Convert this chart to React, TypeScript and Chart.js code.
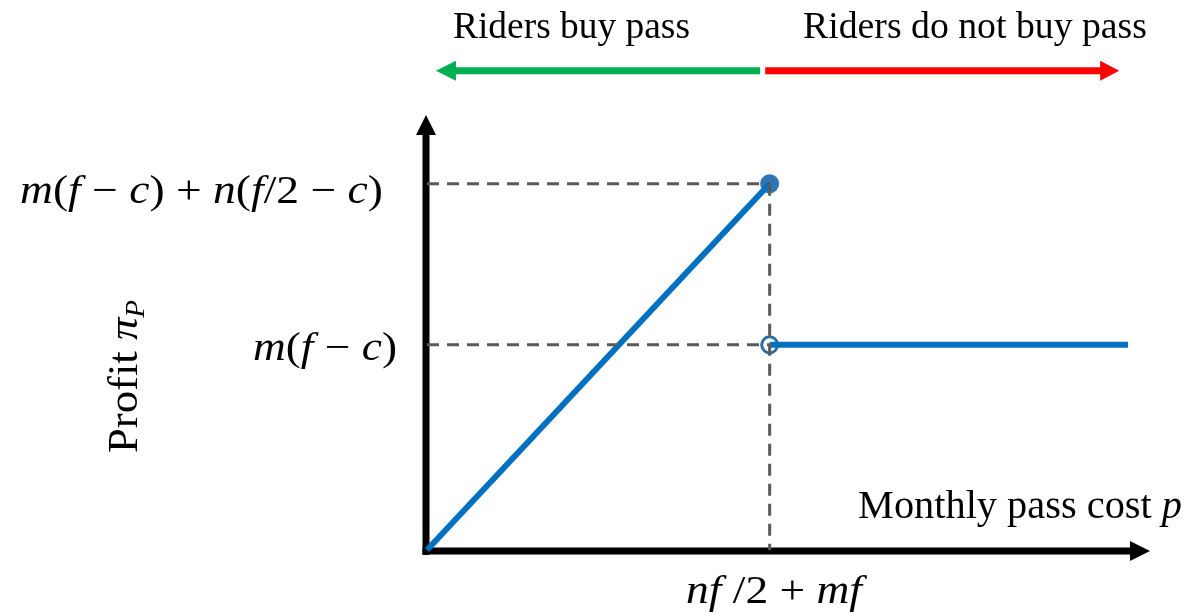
import React, { useEffect, useRef } from "react";
import { Chart, registerables } from "chart.js";

Chart.register(...registerables);

// Schematic values (axis units: break price = 1, peak profit = 2)
const breakPrice = 1;
const endPrice = 2.046;
const peakProfit = 2;
const flatProfit = 1.12;
const xAxisMax = 2.11;
const yAxisMax = 2.375;

const risePoints = [
  { x: 0, y: 0 },
  { x: breakPrice, y: peakProfit },
];
const flatPoints = [
  { x: breakPrice, y: flatProfit },
  { x: endPrice, y: flatProfit },
];
const guidePeak = [
  { x: 0, y: peakProfit },
  { x: breakPrice, y: peakProfit },
];
const guideFlat = [
  { x: 0, y: flatProfit },
  { x: breakPrice, y: flatProfit },
];
const guideVertical = [
  { x: breakPrice, y: peakProfit },
  { x: breakPrice, y: 0 },
];
const filledDot = [{ x: breakPrice, y: peakProfit }];
const openDot = [{ x: breakPrice, y: flatProfit }];

const topLabels = ["Riders buy pass", "Riders do not buy pass"];
const xTitle = "Monthly pass cost ";
const yTitle = "Profit ";

type Seg = [string, boolean, number?]; // text, italic, offset (subscript)

const serif = "'Liberation Serif', 'DejaVu Serif', serif";

function drawRich(
  ctx: CanvasRenderingContext2D,
  segs: Seg[],
  x: number,
  baseline: number,
  size: number,
  targetWidth: number
) {
  ctx.save();
  let total = 0;
  const widths: number[] = [];
  for (const [t, it, sub] of segs) {
    const s = sub ? size * 0.65 : size;
    ctx.font = `${it ? "italic " : ""}${s}px ${serif}`;
    const w = ctx.measureText(t).width;
    widths.push(w);
    total += w;
  }
  const sx = targetWidth / total;
  ctx.translate(x, baseline);
  ctx.scale(sx, 1);
  ctx.fillStyle = "#000";
  ctx.textBaseline = "alphabetic";
  ctx.textAlign = "left";
  let cx = 0;
  segs.forEach(([t, it, sub], i) => {
    const s = sub ? size * 0.65 : size;
    ctx.font = `${it ? "italic " : ""}${s}px ${serif}`;
    ctx.fillText(t, cx, sub ? sub : 0);
    cx += widths[i];
  });
  ctx.restore();
}

function arrow(
  ctx: CanvasRenderingContext2D,
  x1: number, y1: number, x2: number, y2: number,
  color: string, width: number, headLen: number, headHalf: number
) {
  const ang = Math.atan2(y2 - y1, x2 - x1);
  const bx = x2 - Math.cos(ang) * headLen;
  const by = y2 - Math.sin(ang) * headLen;
  ctx.save();
  ctx.strokeStyle = color;
  ctx.fillStyle = color;
  ctx.lineWidth = width;
  ctx.beginPath();
  ctx.moveTo(x1, y1);
  ctx.lineTo(bx + Math.cos(ang), by + Math.sin(ang));
  ctx.stroke();
  ctx.beginPath();
  ctx.moveTo(x2, y2);
  ctx.lineTo(bx - Math.sin(ang) * headHalf, by + Math.cos(ang) * headHalf);
  ctx.lineTo(bx + Math.sin(ang) * headHalf, by - Math.cos(ang) * headHalf);
  ctx.closePath();
  ctx.fill();
  ctx.restore();
}

const annotPlugin = {
  id: "annot",
  beforeDatasetsDraw(chart: any) {
    const ctx: CanvasRenderingContext2D = chart.ctx;
    const xs = chart.scales.x;
    const ys = chart.scales.y;
    const x0 = xs.getPixelForValue(0) - 1;
    const y0 = ys.getPixelForValue(0) + 1;
    const xTip = xs.getPixelForValue(xAxisMax);
    const yTip = ys.getPixelForValue(yAxisMax);
    arrow(ctx, x0, y0 + 4, x0, yTip, "#000", 7, 20, 10);
    arrow(ctx, x0 - 3.5, y0, xTip, y0, "#000", 7, 20, 10);
  },
  afterDraw(chart: any) {
    const ctx: CanvasRenderingContext2D = chart.ctx;
    const xs = chart.scales.x;
    const ys = chart.scales.y;
    // top arrows
    const ay = ys.getPixelForValue(2.617);
    arrow(ctx, xs.getPixelForValue(0.972), ay, xs.getPixelForValue(0.026), ay, "#00B050", 7, 20, 10);
    arrow(ctx, xs.getPixelForValue(0.987), ay, xs.getPixelForValue(2.02), ay, "#FF0000", 7, 19, 10);

    // texts
    drawRich(ctx, [[topLabels[0], false]], 453, 38, 38, 237);
    drawRich(ctx, [[topLabels[1], false]], 803, 38, 38, 344);
    drawRich(ctx, [[xTitle, false], ["p", true]], 858, 518, 40, 324);
    drawRich(
      ctx,
      [
        ["m", true], ["(", false], ["f", true], [" \u2212 ", false], ["c", true],
        [") + ", false], ["n", true], ["(", false], ["f", true], ["/2 \u2212 ", false],
        ["c", true], [")", false],
      ],
      20, 203, 40, 363
    );
    drawRich(
      ctx,
      [["m", true], ["(", false], ["f", true], [" \u2212 ", false], ["c", true], [")", false]],
      253, 360, 40, 144
    );
    drawRich(
      ctx,
      [["nf", true], [" /2 + ", false], ["mf", true]],
      686, 603, 40, 176
    );
    // rotated y title
    ctx.save();
    ctx.translate(137, 453);
    ctx.rotate(-Math.PI / 2);
    drawRich(ctx, [[yTitle, false], ["\u03C0", true], ["P", true, 7]], 0, 0, 42, 153);
    ctx.restore();
  },
};

export default function App() {
  const ref = useRef<HTMLCanvasElement>(null);
  useEffect(() => {
    if (!ref.current) return;
    const blue = "#0070C0";
    const dashColor = "#5A5A5A";
    const guide = (data: any) => ({
      data,
      showLine: true,
      borderColor: dashColor,
      borderWidth: 3,
      borderDash: [12, 8],
      pointRadius: 0,
      clip: false,
    });
    const chart = new Chart(ref.current, {
      type: "scatter",
      data: {
        datasets: [
          guide(guidePeak),
          guide(guideFlat),
          guide(guideVertical),
          {
            data: risePoints,
            showLine: true,
            borderColor: blue,
            borderWidth: 6,
            pointRadius: 0,
            clip: false,
          },
          {
            data: flatPoints,
            showLine: true,
            borderColor: blue,
            borderWidth: 6,
            pointRadius: 0,
            clip: false,
          },
          {
            data: filledDot,
            pointRadius: 9.5,
            backgroundColor: "#2E75B6",
            borderColor: "#2E75B6",
            borderWidth: 0,
            clip: false,
          },
          {
            data: openDot,
            pointRadius: 8,
            backgroundColor: "#FFFFFF",
            borderColor: "#2F6CA6",
            borderWidth: 3,
            clip: false,
          },
        ] as any,
      },
      options: {
        responsive: false,
        animation: false,
        devicePixelRatio: 1,
        layout: { padding: { left: 427, right: 39, top: 115, bottom: 66 } },
        plugins: { legend: { display: false }, tooltip: { enabled: false } },
        scales: {
          x: { type: "linear", min: 0, max: xAxisMax, display: false },
          y: { type: "linear", min: 0, max: yAxisMax, display: false },
        },
      },
      plugins: [annotPlugin],
    });
    return () => chart.destroy();
  }, []);
  return (
    <div style={{ position: "absolute", left: 0, top: 0, width: 1189, height: 616, background: "#fff" }}>
      <canvas ref={ref} width={1189} height={616} />
    </div>
  );
}
